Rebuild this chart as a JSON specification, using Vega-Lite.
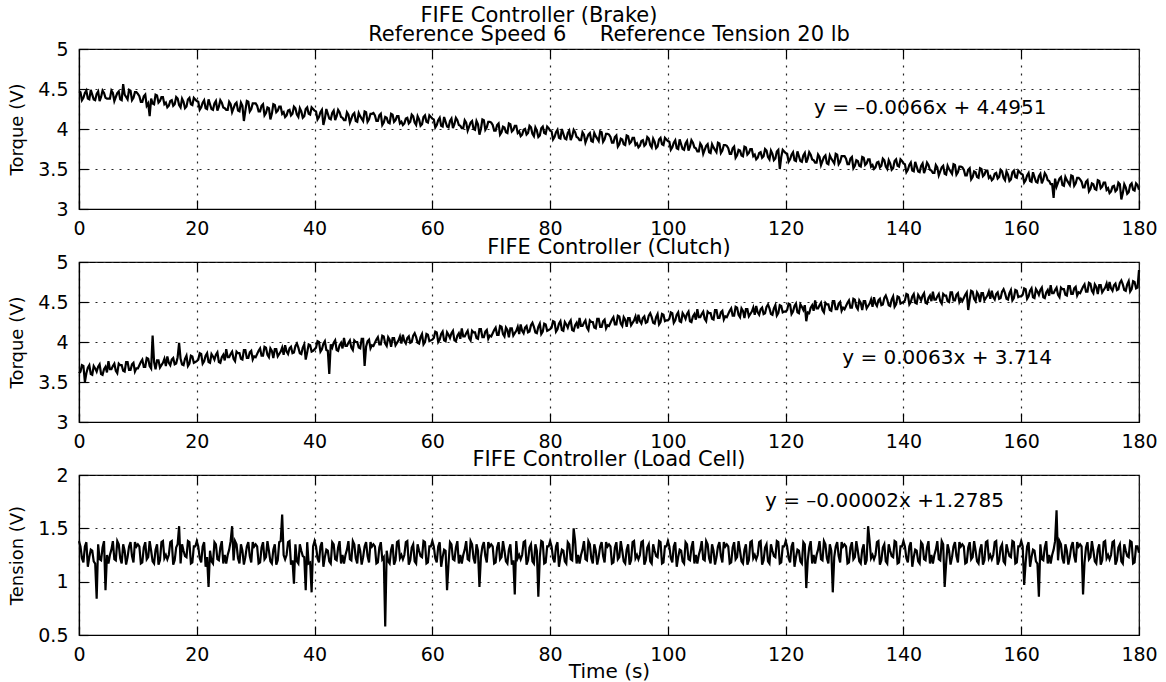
{
"$schema": "https://vega.github.io/schema/vega-lite/v6.json",
"background": "white",
"padding": {"left": 8, "top": 5, "right": 10, "bottom": 0},
"bounds": "flush",
"spacing": 53,
"title": {"text": "FIFE Controller (Brake)", "fontSize": 21, "font": "DejaVu Sans", "fontWeight": "normal", "anchor": "middle", "dx": -44, "offset": -3, "color": "black"},
"config": {
  "font": "DejaVu Sans",
  "view": {"stroke": "black", "strokeWidth": 1.2},
  "title": {"font": "DejaVu Sans", "fontSize": 21, "fontWeight": "normal", "color": "black", "offset": -5},
  "axis": {"labelFont": "DejaVu Sans", "labelFontSize": 19, "labelColor": "black", "titleFont": "DejaVu Sans", "titleFontWeight": "normal", "titleColor": "black", "titleFontSize": 18, "domainColor": "black", "domainWidth": 1.2, "tickColor": "black", "tickWidth": 1.2, "tickSize": -9, "labelPadding": 19, "gridColor": "#222222", "gridDash": [2, 6], "gridWidth": 1.2, "gridOpacity": 1, "labelFlush": false, "labelOverlap": false, "grid": true}
},
"datasets": {"d": [
{"t":0,"b":4.47,"c":3.61,"l":1.38},{"t":0.5,"b":4.36,"c":3.71,"l":1.22},{"t":1,"b":4.45,"c":3.50,"l":1.33},{"t":1.5,"b":4.38,"c":3.68,"l":1.14},{"t":2,"b":4.49,"c":3.60,"l":1.30},{"t":2.5,"b":4.37,"c":3.70,"l":1.19},{"t":3,"b":4.44,"c":3.63,"l":0.84},{"t":3.5,"b":4.35,"c":3.72,"l":1.21},{"t":4,"b":4.48,"c":3.59,"l":1.32},{"t":4.5,"b":4.39,"c":3.69,"l":0.92},
{"t":5,"b":4.38,"c":3.76,"l":1.17},{"t":5.5,"b":4.48,"c":3.66,"l":1.30},{"t":6,"b":4.35,"c":3.73,"l":1.21},{"t":6.5,"b":4.45,"c":3.61,"l":1.38},{"t":7,"b":4.37,"c":3.71,"l":1.22},{"t":7.5,"b":4.56,"c":3.64,"l":1.35},{"t":8,"b":4.40,"c":3.75,"l":1.16},{"t":8.5,"b":4.49,"c":3.65,"l":1.33},{"t":9,"b":4.36,"c":3.72,"l":1.24},{"t":9.5,"b":4.46,"c":3.63,"l":1.37},
{"t":10,"b":4.44,"c":3.67,"l":1.35},{"t":10.5,"b":4.34,"c":3.75,"l":1.17},{"t":11,"b":4.41,"c":3.69,"l":1.32},{"t":11.5,"b":4.29,"c":3.80,"l":1.21},{"t":12,"b":4.16,"c":3.70,"l":1.38},{"t":12.5,"b":4.32,"c":4.08,"l":1.19},{"t":13,"b":4.43,"c":3.66,"l":1.30},{"t":13.5,"b":4.33,"c":3.77,"l":1.16},{"t":14,"b":4.40,"c":3.71,"l":1.37},{"t":14.5,"b":4.31,"c":3.79,"l":1.22},
{"t":15,"b":4.27,"c":3.82,"l":1.21},{"t":15.5,"b":4.35,"c":3.71,"l":1.37},{"t":16,"b":4.29,"c":3.80,"l":1.16},{"t":16.5,"b":4.40,"c":3.73,"l":1.32},{"t":17,"b":4.30,"c":3.99,"l":1.52},{"t":17.5,"b":4.38,"c":3.72,"l":1.35},{"t":18,"b":4.26,"c":3.79,"l":1.24},{"t":18.5,"b":4.37,"c":3.70,"l":1.38},{"t":19,"b":4.31,"c":3.83,"l":1.17},{"t":19.5,"b":4.39,"c":3.74,"l":1.33},
{"t":20,"b":4.35,"c":3.76,"l":1.38},{"t":20.5,"b":4.24,"c":3.86,"l":1.22},{"t":21,"b":4.33,"c":3.73,"l":1.33},{"t":21.5,"b":4.26,"c":3.83,"l":1.14},{"t":22,"b":4.37,"c":3.75,"l":0.95},{"t":22.5,"b":4.25,"c":3.85,"l":1.19},{"t":23,"b":4.32,"c":3.78,"l":1.37},{"t":23.5,"b":4.23,"c":3.87,"l":1.21},{"t":24,"b":4.36,"c":3.74,"l":1.32},{"t":24.5,"b":4.27,"c":3.84,"l":1.17},
{"t":25,"b":4.24,"c":3.91,"l":1.17},{"t":25.5,"b":4.34,"c":3.81,"l":1.30},{"t":26,"b":4.21,"c":3.88,"l":1.52},{"t":26.5,"b":4.31,"c":3.76,"l":1.38},{"t":27,"b":4.23,"c":3.86,"l":1.22},{"t":27.5,"b":4.33,"c":3.79,"l":1.35},{"t":28,"b":4.10,"c":3.90,"l":1.16},{"t":28.5,"b":4.35,"c":3.80,"l":1.33},{"t":29,"b":4.22,"c":3.87,"l":1.24},{"t":29.5,"b":4.32,"c":3.78,"l":1.37},
{"t":30,"b":4.32,"c":3.81,"l":1.35},{"t":30.5,"b":4.22,"c":3.89,"l":1.17},{"t":31,"b":4.29,"c":3.83,"l":1.32},{"t":31.5,"b":4.17,"c":3.94,"l":1.21},{"t":32,"b":4.27,"c":3.84,"l":1.38},{"t":32.5,"b":4.12,"c":3.92,"l":1.19},{"t":33,"b":4.31,"c":3.80,"l":1.30},{"t":33.5,"b":4.21,"c":3.91,"l":1.16},{"t":34,"b":4.28,"c":3.85,"l":1.37},{"t":34.5,"b":4.19,"c":3.93,"l":1.63},
{"t":35,"b":4.15,"c":3.96,"l":1.21},{"t":35.5,"b":4.23,"c":3.85,"l":1.37},{"t":36,"b":4.17,"c":3.94,"l":1.16},{"t":36.5,"b":4.28,"c":3.87,"l":0.98},{"t":37,"b":4.18,"c":3.98,"l":1.19},{"t":37.5,"b":4.26,"c":3.86,"l":1.35},{"t":38,"b":4.14,"c":3.93,"l":1.24},{"t":38.5,"b":4.25,"c":3.78,"l":0.92},{"t":39,"b":4.19,"c":3.97,"l":1.17},{"t":39.5,"b":4.27,"c":3.88,"l":0.90},
{"t":40,"b":4.23,"c":3.91,"l":1.38},{"t":40.5,"b":4.12,"c":4.01,"l":1.22},{"t":41,"b":4.21,"c":3.88,"l":1.33},{"t":41.5,"b":4.05,"c":3.98,"l":1.14},{"t":42,"b":4.25,"c":3.90,"l":1.30},{"t":42.5,"b":4.13,"c":3.60,"l":1.19},{"t":43,"b":4.20,"c":3.93,"l":1.37},{"t":43.5,"b":4.11,"c":4.02,"l":1.21},{"t":44,"b":4.24,"c":3.89,"l":1.32},{"t":44.5,"b":4.15,"c":3.99,"l":1.17},
{"t":45,"b":4.11,"c":4.05,"l":1.17},{"t":45.5,"b":4.21,"c":3.95,"l":1.30},{"t":46,"b":4.08,"c":4.02,"l":1.21},{"t":46.5,"b":4.18,"c":3.90,"l":1.38},{"t":47,"b":4.10,"c":4.00,"l":1.22},{"t":47.5,"b":4.20,"c":3.93,"l":1.35},{"t":48,"b":4.13,"c":4.04,"l":1.16},{"t":48.5,"b":4.22,"c":3.70,"l":1.33},{"t":49,"b":4.09,"c":4.01,"l":1.24},{"t":49.5,"b":4.19,"c":3.92,"l":1.37},
{"t":50,"b":4.20,"c":3.95,"l":1.35},{"t":50.5,"b":4.10,"c":4.03,"l":1.17},{"t":51,"b":4.17,"c":3.97,"l":1.32},{"t":51.5,"b":4.05,"c":4.08,"l":1.21},{"t":52,"b":4.15,"c":3.98,"l":0.58},{"t":52.5,"b":4.08,"c":4.06,"l":1.19},{"t":53,"b":4.19,"c":3.94,"l":1.30},{"t":53.5,"b":4.09,"c":4.05,"l":1.16},{"t":54,"b":4.16,"c":3.99,"l":1.37},{"t":54.5,"b":4.07,"c":4.07,"l":1.22},
{"t":55,"b":4.05,"c":4.09,"l":1.21},{"t":55.5,"b":4.13,"c":3.98,"l":1.37},{"t":56,"b":4.07,"c":4.07,"l":1.16},{"t":56.5,"b":4.18,"c":4.00,"l":1.32},{"t":57,"b":4.08,"c":4.11,"l":1.19},{"t":57.5,"b":4.16,"c":3.99,"l":1.35},{"t":58,"b":4.04,"c":4.06,"l":1.24},{"t":58.5,"b":4.15,"c":3.97,"l":1.38},{"t":59,"b":4.09,"c":4.10,"l":1.17},{"t":59.5,"b":4.17,"c":4.01,"l":1.33},
{"t":60,"b":4.13,"c":4.03,"l":1.38},{"t":60.5,"b":4.02,"c":4.13,"l":1.22},{"t":61,"b":4.11,"c":4.00,"l":1.33},{"t":61.5,"b":4.04,"c":4.10,"l":1.14},{"t":62,"b":4.15,"c":4.02,"l":1.30},{"t":62.5,"b":4.03,"c":4.12,"l":0.92},{"t":63,"b":4.10,"c":4.05,"l":1.37},{"t":63.5,"b":4.01,"c":4.14,"l":1.21},{"t":64,"b":4.14,"c":4.01,"l":1.32},{"t":64.5,"b":4.05,"c":4.11,"l":1.17},
{"t":65,"b":4.01,"c":4.17,"l":1.17},{"t":65.5,"b":4.11,"c":4.07,"l":1.30},{"t":66,"b":3.98,"c":4.14,"l":1.21},{"t":66.5,"b":4.08,"c":4.02,"l":1.38},{"t":67,"b":4.00,"c":4.12,"l":1.22},{"t":67.5,"b":4.10,"c":4.05,"l":1.35},{"t":68,"b":3.93,"c":4.16,"l":0.95},{"t":68.5,"b":4.12,"c":4.06,"l":1.33},{"t":69,"b":3.99,"c":4.13,"l":1.24},{"t":69.5,"b":4.09,"c":4.04,"l":1.37},
{"t":70,"b":4.08,"c":4.07,"l":1.35},{"t":70.5,"b":3.98,"c":4.15,"l":1.17},{"t":71,"b":4.05,"c":4.09,"l":1.32},{"t":71.5,"b":3.93,"c":4.20,"l":1.21},{"t":72,"b":4.03,"c":4.10,"l":1.38},{"t":72.5,"b":3.96,"c":4.18,"l":1.19},{"t":73,"b":4.07,"c":4.06,"l":1.30},{"t":73.5,"b":3.97,"c":4.17,"l":1.16},{"t":74,"b":4.04,"c":4.11,"l":0.88},{"t":74.5,"b":3.95,"c":4.19,"l":1.22},
{"t":75,"b":3.91,"c":4.22,"l":1.21},{"t":75.5,"b":3.99,"c":4.11,"l":1.37},{"t":76,"b":3.93,"c":4.20,"l":1.16},{"t":76.5,"b":4.04,"c":4.13,"l":1.32},{"t":77,"b":3.94,"c":4.24,"l":1.19},{"t":77.5,"b":4.02,"c":4.12,"l":1.35},{"t":78,"b":3.90,"c":4.19,"l":0.86},{"t":78.5,"b":4.01,"c":4.10,"l":1.38},{"t":79,"b":3.95,"c":4.23,"l":1.17},{"t":79.5,"b":4.03,"c":4.14,"l":1.33},
{"t":80,"b":3.98,"c":4.16,"l":1.38},{"t":80.5,"b":3.87,"c":4.26,"l":1.22},{"t":81,"b":3.96,"c":4.13,"l":1.33},{"t":81.5,"b":3.89,"c":4.23,"l":1.14},{"t":82,"b":4.00,"c":4.15,"l":1.30},{"t":82.5,"b":3.88,"c":4.25,"l":1.19},{"t":83,"b":3.95,"c":4.18,"l":1.37},{"t":83.5,"b":3.86,"c":4.27,"l":1.21},{"t":84,"b":3.99,"c":4.14,"l":1.50},{"t":84.5,"b":3.90,"c":4.24,"l":1.17},
{"t":85,"b":3.86,"c":4.30,"l":1.17},{"t":85.5,"b":3.96,"c":4.20,"l":1.30},{"t":86,"b":3.83,"c":4.27,"l":1.21},{"t":86.5,"b":3.93,"c":4.15,"l":1.38},{"t":87,"b":3.85,"c":4.25,"l":1.22},{"t":87.5,"b":3.95,"c":4.18,"l":1.35},{"t":88,"b":3.88,"c":4.29,"l":1.16},{"t":88.5,"b":3.97,"c":4.19,"l":1.33},{"t":89,"b":3.84,"c":4.26,"l":1.24},{"t":89.5,"b":3.94,"c":4.17,"l":1.37},
{"t":90,"b":3.93,"c":4.20,"l":1.35},{"t":90.5,"b":3.83,"c":4.28,"l":1.17},{"t":91,"b":3.90,"c":4.22,"l":1.32},{"t":91.5,"b":3.78,"c":4.33,"l":1.21},{"t":92,"b":3.88,"c":4.23,"l":1.38},{"t":92.5,"b":3.81,"c":4.31,"l":1.19},{"t":93,"b":3.92,"c":4.19,"l":1.30},{"t":93.5,"b":3.82,"c":4.30,"l":1.16},{"t":94,"b":3.89,"c":4.24,"l":1.37},{"t":94.5,"b":3.80,"c":4.32,"l":1.22},
{"t":95,"b":3.77,"c":4.34,"l":1.21},{"t":95.5,"b":3.85,"c":4.23,"l":1.37},{"t":96,"b":3.79,"c":4.32,"l":1.16},{"t":96.5,"b":3.90,"c":4.25,"l":1.32},{"t":97,"b":3.80,"c":4.36,"l":1.19},{"t":97.5,"b":3.88,"c":4.24,"l":1.35},{"t":98,"b":3.76,"c":4.31,"l":1.24},{"t":98.5,"b":3.87,"c":4.22,"l":1.38},{"t":99,"b":3.81,"c":4.35,"l":1.17},{"t":99.5,"b":3.89,"c":4.26,"l":1.33},
{"t":100,"b":3.85,"c":4.27,"l":1.38},{"t":100.5,"b":3.74,"c":4.37,"l":1.22},{"t":101,"b":3.83,"c":4.24,"l":1.33},{"t":101.5,"b":3.76,"c":4.34,"l":1.14},{"t":102,"b":3.87,"c":4.26,"l":1.30},{"t":102.5,"b":3.75,"c":4.36,"l":1.19},{"t":103,"b":3.82,"c":4.29,"l":1.37},{"t":103.5,"b":3.73,"c":4.38,"l":1.21},{"t":104,"b":3.86,"c":4.25,"l":1.32},{"t":104.5,"b":3.77,"c":4.35,"l":1.17},
{"t":105,"b":3.72,"c":4.41,"l":1.17},{"t":105.5,"b":3.82,"c":4.31,"l":1.30},{"t":106,"b":3.69,"c":4.38,"l":1.21},{"t":106.5,"b":3.79,"c":4.26,"l":1.38},{"t":107,"b":3.71,"c":4.36,"l":1.22},{"t":107.5,"b":3.81,"c":4.29,"l":1.35},{"t":108,"b":3.74,"c":4.40,"l":1.16},{"t":108.5,"b":3.83,"c":4.30,"l":1.33},{"t":109,"b":3.70,"c":4.37,"l":1.24},{"t":109.5,"b":3.80,"c":4.28,"l":1.37},
{"t":110,"b":3.79,"c":4.31,"l":1.35},{"t":110.5,"b":3.69,"c":4.39,"l":1.17},{"t":111,"b":3.76,"c":4.33,"l":1.32},{"t":111.5,"b":3.64,"c":4.44,"l":1.21},{"t":112,"b":3.74,"c":4.34,"l":1.38},{"t":112.5,"b":3.67,"c":4.42,"l":1.19},{"t":113,"b":3.78,"c":4.30,"l":1.30},{"t":113.5,"b":3.68,"c":4.41,"l":1.16},{"t":114,"b":3.75,"c":4.35,"l":1.37},{"t":114.5,"b":3.66,"c":4.43,"l":1.22},
{"t":115,"b":3.62,"c":4.45,"l":1.21},{"t":115.5,"b":3.70,"c":4.34,"l":1.37},{"t":116,"b":3.64,"c":4.43,"l":1.16},{"t":116.5,"b":3.75,"c":4.36,"l":1.32},{"t":117,"b":3.65,"c":4.47,"l":1.19},{"t":117.5,"b":3.73,"c":4.35,"l":1.35},{"t":118,"b":3.61,"c":4.42,"l":1.24},{"t":118.5,"b":3.72,"c":4.33,"l":1.38},{"t":119,"b":3.50,"c":4.46,"l":1.17},{"t":119.5,"b":3.74,"c":4.37,"l":1.33},
{"t":120,"b":3.70,"c":4.38,"l":1.38},{"t":120.5,"b":3.59,"c":4.48,"l":1.22},{"t":121,"b":3.68,"c":4.35,"l":1.33},{"t":121.5,"b":3.61,"c":4.45,"l":1.14},{"t":122,"b":3.72,"c":4.37,"l":1.30},{"t":122.5,"b":3.60,"c":4.47,"l":1.19},{"t":123,"b":3.67,"c":4.40,"l":1.37},{"t":123.5,"b":3.58,"c":4.26,"l":0.94},{"t":124,"b":3.71,"c":4.36,"l":1.32},{"t":124.5,"b":3.62,"c":4.46,"l":1.17},
{"t":125,"b":3.58,"c":4.52,"l":1.17},{"t":125.5,"b":3.68,"c":4.42,"l":1.30},{"t":126,"b":3.55,"c":4.49,"l":1.21},{"t":126.5,"b":3.65,"c":4.37,"l":1.38},{"t":127,"b":3.57,"c":4.47,"l":1.22},{"t":127.5,"b":3.67,"c":4.40,"l":1.35},{"t":128,"b":3.60,"c":4.51,"l":0.90},{"t":128.5,"b":3.69,"c":4.41,"l":1.33},{"t":129,"b":3.56,"c":4.48,"l":1.24},{"t":129.5,"b":3.66,"c":4.39,"l":1.37},
{"t":130,"b":3.66,"c":4.41,"l":1.35},{"t":130.5,"b":3.56,"c":4.49,"l":1.17},{"t":131,"b":3.63,"c":4.43,"l":1.32},{"t":131.5,"b":3.51,"c":4.54,"l":1.21},{"t":132,"b":3.61,"c":4.44,"l":1.38},{"t":132.5,"b":3.54,"c":4.52,"l":1.19},{"t":133,"b":3.65,"c":4.40,"l":1.30},{"t":133.5,"b":3.55,"c":4.51,"l":1.16},{"t":134,"b":3.62,"c":4.45,"l":1.52},{"t":134.5,"b":3.53,"c":4.53,"l":1.22},
{"t":135,"b":3.50,"c":4.56,"l":1.21},{"t":135.5,"b":3.58,"c":4.45,"l":1.37},{"t":136,"b":3.52,"c":4.54,"l":1.16},{"t":136.5,"b":3.63,"c":4.47,"l":1.32},{"t":137,"b":3.53,"c":4.58,"l":1.19},{"t":137.5,"b":3.61,"c":4.46,"l":1.35},{"t":138,"b":3.49,"c":4.53,"l":1.24},{"t":138.5,"b":3.60,"c":4.44,"l":1.38},{"t":139,"b":3.54,"c":4.57,"l":1.17},{"t":139.5,"b":3.62,"c":4.48,"l":1.33},
{"t":140,"b":3.57,"c":4.50,"l":1.38},{"t":140.5,"b":3.46,"c":4.60,"l":1.22},{"t":141,"b":3.55,"c":4.47,"l":1.33},{"t":141.5,"b":3.48,"c":4.57,"l":1.14},{"t":142,"b":3.59,"c":4.49,"l":1.30},{"t":142.5,"b":3.47,"c":4.59,"l":1.19},{"t":143,"b":3.54,"c":4.52,"l":1.37},{"t":143.5,"b":3.45,"c":4.61,"l":1.21},{"t":144,"b":3.58,"c":4.48,"l":1.32},{"t":144.5,"b":3.49,"c":4.58,"l":1.17},
{"t":145,"b":3.45,"c":4.63,"l":1.17},{"t":145.5,"b":3.55,"c":4.53,"l":1.30},{"t":146,"b":3.42,"c":4.60,"l":1.21},{"t":146.5,"b":3.52,"c":4.48,"l":1.38},{"t":147,"b":3.44,"c":4.58,"l":0.95},{"t":147.5,"b":3.54,"c":4.51,"l":1.35},{"t":148,"b":3.47,"c":4.62,"l":1.16},{"t":148.5,"b":3.56,"c":4.52,"l":1.33},{"t":149,"b":3.43,"c":4.59,"l":1.24},{"t":149.5,"b":3.53,"c":4.50,"l":1.37},
{"t":150,"b":3.52,"c":4.51,"l":1.35},{"t":150.5,"b":3.42,"c":4.59,"l":1.17},{"t":151,"b":3.49,"c":4.40,"l":1.32},{"t":151.5,"b":3.37,"c":4.64,"l":1.21},{"t":152,"b":3.47,"c":4.54,"l":1.38},{"t":152.5,"b":3.40,"c":4.62,"l":1.19},{"t":153,"b":3.51,"c":4.50,"l":1.30},{"t":153.5,"b":3.41,"c":4.61,"l":1.16},{"t":154,"b":3.48,"c":4.55,"l":1.37},{"t":154.5,"b":3.39,"c":4.63,"l":1.22},
{"t":155,"b":3.36,"c":4.64,"l":1.21},{"t":155.5,"b":3.44,"c":4.53,"l":1.37},{"t":156,"b":3.38,"c":4.62,"l":1.16},{"t":156.5,"b":3.49,"c":4.55,"l":1.32},{"t":157,"b":3.39,"c":4.66,"l":1.19},{"t":157.5,"b":3.47,"c":4.54,"l":1.35},{"t":158,"b":3.35,"c":4.61,"l":1.24},{"t":158.5,"b":3.46,"c":4.52,"l":1.38},{"t":159,"b":3.40,"c":4.65,"l":1.17},{"t":159.5,"b":3.48,"c":4.56,"l":1.33},
{"t":160,"b":3.44,"c":4.57,"l":1.38},{"t":160.5,"b":3.33,"c":4.67,"l":0.97},{"t":161,"b":3.42,"c":4.54,"l":1.33},{"t":161.5,"b":3.35,"c":4.64,"l":1.14},{"t":162,"b":3.46,"c":4.56,"l":1.30},{"t":162.5,"b":3.34,"c":4.66,"l":1.19},{"t":163,"b":3.41,"c":4.59,"l":0.86},{"t":163.5,"b":3.32,"c":4.68,"l":1.21},{"t":164,"b":3.45,"c":4.55,"l":1.32},{"t":164.5,"b":3.36,"c":4.65,"l":1.17},
{"t":165,"b":3.31,"c":4.71,"l":1.17},{"t":165.5,"b":3.14,"c":4.61,"l":1.30},{"t":166,"b":3.28,"c":4.68,"l":1.67},{"t":166.5,"b":3.38,"c":4.56,"l":1.38},{"t":167,"b":3.30,"c":4.66,"l":1.22},{"t":167.5,"b":3.40,"c":4.59,"l":1.35},{"t":168,"b":3.33,"c":4.70,"l":1.16},{"t":168.5,"b":3.42,"c":4.60,"l":1.33},{"t":169,"b":3.29,"c":4.67,"l":1.24},{"t":169.5,"b":3.39,"c":4.58,"l":1.37},
{"t":170,"b":3.37,"c":4.61,"l":1.35},{"t":170.5,"b":3.27,"c":4.69,"l":0.88},{"t":171,"b":3.34,"c":4.63,"l":1.32},{"t":171.5,"b":3.22,"c":4.74,"l":1.21},{"t":172,"b":3.32,"c":4.64,"l":1.38},{"t":172.5,"b":3.25,"c":4.72,"l":1.19},{"t":173,"b":3.36,"c":4.60,"l":1.30},{"t":173.5,"b":3.26,"c":4.71,"l":1.16},{"t":174,"b":3.33,"c":4.65,"l":1.37},{"t":174.5,"b":3.24,"c":4.73,"l":1.22},
{"t":175,"b":3.20,"c":4.75,"l":1.21},{"t":175.5,"b":3.28,"c":4.64,"l":1.37},{"t":176,"b":3.22,"c":4.73,"l":1.16},{"t":176.5,"b":3.33,"c":4.66,"l":1.32},{"t":177,"b":3.12,"c":4.77,"l":1.19},{"t":177.5,"b":3.31,"c":4.65,"l":1.35},{"t":178,"b":3.19,"c":4.72,"l":1.24},{"t":178.5,"b":3.30,"c":4.63,"l":1.38},{"t":179,"b":3.24,"c":4.76,"l":1.17},{"t":179.5,"b":3.32,"c":4.67,"l":1.33},
{"t":180,"b":3.24,"c":4.90,"l":1.27},
{"t":0.25,"b":4.46,"c":3.63,"l":1.33},{"t":0.75,"b":4.39,"c":3.70,"l":1.18},{"t":1.25,"b":4.48,"c":3.61,"l":1.37},{"t":1.75,"b":4.37,"c":3.71,"l":1.23},{"t":2.25,"b":4.43,"c":3.59,"l":1.29},{"t":2.75,"b":4.36,"c":3.67,"l":1.17},{"t":3.25,"b":4.47,"c":3.69,"l":1.35},{"t":3.75,"b":4.40,"c":3.60,"l":1.20},{"t":4.25,"b":4.45,"c":3.66,"l":1.38},{"t":4.75,"b":4.38,"c":3.62,"l":1.25},
{"t":5.25,"b":4.38,"c":3.66,"l":1.25},{"t":5.75,"b":4.45,"c":3.70,"l":1.38},{"t":6.25,"b":4.40,"c":3.64,"l":1.20},{"t":6.75,"b":4.47,"c":3.73,"l":1.35},{"t":7.25,"b":4.36,"c":3.71,"l":1.17},{"t":7.75,"b":4.43,"c":3.63,"l":1.29},{"t":8.25,"b":4.37,"c":3.75,"l":1.23},{"t":8.75,"b":4.48,"c":3.65,"l":1.37},{"t":9.25,"b":4.39,"c":3.74,"l":1.18},{"t":9.75,"b":4.46,"c":3.67,"l":1.33},
{"t":10.25,"b":4.41,"c":3.71,"l":1.33},{"t":10.75,"b":4.34,"c":3.78,"l":1.18},{"t":11.25,"b":4.43,"c":3.69,"l":1.37},{"t":11.75,"b":4.32,"c":3.79,"l":1.23},{"t":12.25,"b":4.38,"c":3.67,"l":1.29},{"t":12.75,"b":4.31,"c":3.75,"l":1.17},{"t":13.25,"b":4.42,"c":3.77,"l":1.35},{"t":13.75,"b":4.35,"c":3.68,"l":1.20},{"t":14.25,"b":4.40,"c":3.74,"l":1.38},{"t":14.75,"b":4.33,"c":3.70,"l":1.25},
{"t":15.25,"b":4.29,"c":3.74,"l":1.25},{"t":15.75,"b":4.36,"c":3.78,"l":1.38},{"t":16.25,"b":4.31,"c":3.72,"l":1.20},{"t":16.75,"b":4.38,"c":3.81,"l":1.35},{"t":17.25,"b":4.27,"c":3.79,"l":1.17},{"t":17.75,"b":4.34,"c":3.71,"l":1.29},{"t":18.25,"b":4.28,"c":3.83,"l":1.23},{"t":18.75,"b":4.39,"c":3.73,"l":1.37},{"t":19.25,"b":4.30,"c":3.82,"l":1.18},{"t":19.75,"b":4.37,"c":3.75,"l":1.33},
{"t":20.25,"b":4.34,"c":3.78,"l":1.33},{"t":20.75,"b":4.27,"c":3.85,"l":1.18},{"t":21.25,"b":4.36,"c":3.76,"l":1.37},{"t":21.75,"b":4.25,"c":3.86,"l":1.23},{"t":22.25,"b":4.31,"c":3.74,"l":1.29},{"t":22.75,"b":4.24,"c":3.82,"l":1.17},{"t":23.25,"b":4.35,"c":3.84,"l":1.35},{"t":23.75,"b":4.28,"c":3.75,"l":1.20},{"t":24.25,"b":4.33,"c":3.81,"l":1.38},{"t":24.75,"b":4.26,"c":3.77,"l":1.25},
{"t":25.25,"b":4.24,"c":3.81,"l":1.25},{"t":25.75,"b":4.31,"c":3.85,"l":1.38},{"t":26.25,"b":4.26,"c":3.79,"l":1.20},{"t":26.75,"b":4.33,"c":3.88,"l":1.35},{"t":27.25,"b":4.22,"c":3.86,"l":1.17},{"t":27.75,"b":4.29,"c":3.78,"l":1.29},{"t":28.25,"b":4.23,"c":3.90,"l":1.23},{"t":28.75,"b":4.34,"c":3.80,"l":1.37},{"t":29.25,"b":4.25,"c":3.89,"l":1.18},{"t":29.75,"b":4.32,"c":3.82,"l":1.33},
{"t":30.25,"b":4.29,"c":3.85,"l":1.33},{"t":30.75,"b":4.22,"c":3.92,"l":1.18},{"t":31.25,"b":4.31,"c":3.83,"l":1.37},{"t":31.75,"b":4.20,"c":3.93,"l":1.23},{"t":32.25,"b":4.26,"c":3.81,"l":1.29},{"t":32.75,"b":4.19,"c":3.89,"l":1.17},{"t":33.25,"b":4.30,"c":3.91,"l":1.35},{"t":33.75,"b":4.23,"c":3.82,"l":1.20},{"t":34.25,"b":4.28,"c":3.88,"l":1.38},{"t":34.75,"b":4.21,"c":3.84,"l":1.25},
{"t":35.25,"b":4.17,"c":3.88,"l":1.25},{"t":35.75,"b":4.24,"c":3.92,"l":1.38},{"t":36.25,"b":4.19,"c":3.86,"l":1.20},{"t":36.75,"b":4.26,"c":3.95,"l":1.35},{"t":37.25,"b":4.15,"c":3.93,"l":1.17},{"t":37.75,"b":4.22,"c":3.85,"l":1.29},{"t":38.25,"b":4.16,"c":3.97,"l":1.23},{"t":38.75,"b":4.27,"c":3.87,"l":1.37},{"t":39.25,"b":4.18,"c":3.96,"l":1.18},{"t":39.75,"b":4.25,"c":3.89,"l":1.33},
{"t":40.25,"b":4.22,"c":3.93,"l":1.33},{"t":40.75,"b":4.15,"c":4.00,"l":1.18},{"t":41.25,"b":4.24,"c":3.91,"l":1.37},{"t":41.75,"b":4.13,"c":4.01,"l":1.23},{"t":42.25,"b":4.19,"c":3.89,"l":1.29},{"t":42.75,"b":4.12,"c":3.97,"l":1.17},{"t":43.25,"b":4.23,"c":3.99,"l":1.35},{"t":43.75,"b":4.16,"c":3.90,"l":1.20},{"t":44.25,"b":4.21,"c":3.96,"l":1.38},{"t":44.75,"b":4.14,"c":3.92,"l":1.25},
{"t":45.25,"b":4.11,"c":3.95,"l":1.25},{"t":45.75,"b":4.18,"c":3.99,"l":1.38},{"t":46.25,"b":4.13,"c":3.93,"l":1.20},{"t":46.75,"b":4.20,"c":4.02,"l":1.35},{"t":47.25,"b":4.09,"c":4.00,"l":1.17},{"t":47.75,"b":4.16,"c":3.92,"l":1.29},{"t":48.25,"b":4.10,"c":4.04,"l":1.23},{"t":48.75,"b":4.21,"c":3.94,"l":1.37},{"t":49.25,"b":4.12,"c":4.03,"l":1.18},{"t":49.75,"b":4.19,"c":3.96,"l":1.33},
{"t":50.25,"b":4.17,"c":3.99,"l":1.33},{"t":50.75,"b":4.10,"c":4.06,"l":1.18},{"t":51.25,"b":4.19,"c":3.97,"l":1.37},{"t":51.75,"b":4.08,"c":4.07,"l":1.23},{"t":52.25,"b":4.14,"c":3.95,"l":1.29},{"t":52.75,"b":4.07,"c":4.03,"l":1.17},{"t":53.25,"b":4.18,"c":4.05,"l":1.35},{"t":53.75,"b":4.11,"c":3.96,"l":1.20},{"t":54.25,"b":4.16,"c":4.02,"l":1.38},{"t":54.75,"b":4.09,"c":3.98,"l":1.25},
{"t":55.25,"b":4.07,"c":4.01,"l":1.25},{"t":55.75,"b":4.14,"c":4.05,"l":1.38},{"t":56.25,"b":4.09,"c":3.99,"l":1.20},{"t":56.75,"b":4.16,"c":4.08,"l":1.35},{"t":57.25,"b":4.05,"c":4.06,"l":1.17},{"t":57.75,"b":4.12,"c":3.98,"l":1.29},{"t":58.25,"b":4.06,"c":4.10,"l":1.23},{"t":58.75,"b":4.17,"c":4.00,"l":1.37},{"t":59.25,"b":4.08,"c":4.09,"l":1.18},{"t":59.75,"b":4.15,"c":4.02,"l":1.33},
{"t":60.25,"b":4.12,"c":4.05,"l":1.33},{"t":60.75,"b":4.05,"c":4.12,"l":1.18},{"t":61.25,"b":4.14,"c":4.03,"l":1.37},{"t":61.75,"b":4.03,"c":4.13,"l":1.23},{"t":62.25,"b":4.09,"c":4.01,"l":1.29},{"t":62.75,"b":4.02,"c":4.09,"l":1.17},{"t":63.25,"b":4.13,"c":4.11,"l":1.35},{"t":63.75,"b":4.06,"c":4.02,"l":1.20},{"t":64.25,"b":4.11,"c":4.08,"l":1.38},{"t":64.75,"b":4.04,"c":4.04,"l":1.25},
{"t":65.25,"b":4.01,"c":4.07,"l":1.25},{"t":65.75,"b":4.08,"c":4.11,"l":1.38},{"t":66.25,"b":4.03,"c":4.05,"l":1.20},{"t":66.75,"b":4.10,"c":4.14,"l":1.35},{"t":67.25,"b":3.99,"c":4.12,"l":1.17},{"t":67.75,"b":4.06,"c":4.04,"l":1.29},{"t":68.25,"b":4.00,"c":4.16,"l":1.23},{"t":68.75,"b":4.11,"c":4.06,"l":1.37},{"t":69.25,"b":4.02,"c":4.15,"l":1.18},{"t":69.75,"b":4.09,"c":4.08,"l":1.33},
{"t":70.25,"b":4.05,"c":4.11,"l":1.33},{"t":70.75,"b":3.98,"c":4.18,"l":1.18},{"t":71.25,"b":4.07,"c":4.09,"l":1.37},{"t":71.75,"b":3.96,"c":4.19,"l":1.23},{"t":72.25,"b":4.02,"c":4.07,"l":1.29},{"t":72.75,"b":3.95,"c":4.15,"l":1.17},{"t":73.25,"b":4.06,"c":4.17,"l":1.35},{"t":73.75,"b":3.99,"c":4.08,"l":1.20},{"t":74.25,"b":4.04,"c":4.14,"l":1.38},{"t":74.75,"b":3.97,"c":4.10,"l":1.25},
{"t":75.25,"b":3.93,"c":4.14,"l":1.25},{"t":75.75,"b":4.00,"c":4.18,"l":1.38},{"t":76.25,"b":3.95,"c":4.12,"l":1.20},{"t":76.75,"b":4.02,"c":4.21,"l":1.35},{"t":77.25,"b":3.91,"c":4.19,"l":1.17},{"t":77.75,"b":3.98,"c":4.11,"l":1.29},{"t":78.25,"b":3.92,"c":4.23,"l":1.23},{"t":78.75,"b":4.03,"c":4.13,"l":1.37},{"t":79.25,"b":3.94,"c":4.22,"l":1.18},{"t":79.75,"b":4.01,"c":4.15,"l":1.33},
{"t":80.25,"b":3.97,"c":4.18,"l":1.33},{"t":80.75,"b":3.90,"c":4.25,"l":1.18},{"t":81.25,"b":3.99,"c":4.16,"l":1.37},{"t":81.75,"b":3.88,"c":4.26,"l":1.23},{"t":82.25,"b":3.94,"c":4.14,"l":1.29},{"t":82.75,"b":3.87,"c":4.22,"l":1.17},{"t":83.25,"b":3.98,"c":4.24,"l":1.35},{"t":83.75,"b":3.91,"c":4.15,"l":1.20},{"t":84.25,"b":3.96,"c":4.21,"l":1.38},{"t":84.75,"b":3.89,"c":4.17,"l":1.25},
{"t":85.25,"b":3.86,"c":4.20,"l":1.25},{"t":85.75,"b":3.93,"c":4.24,"l":1.38},{"t":86.25,"b":3.88,"c":4.18,"l":1.20},{"t":86.75,"b":3.95,"c":4.27,"l":1.35},{"t":87.25,"b":3.84,"c":4.25,"l":1.17},{"t":87.75,"b":3.91,"c":4.17,"l":1.29},{"t":88.25,"b":3.85,"c":4.29,"l":1.23},{"t":88.75,"b":3.96,"c":4.19,"l":1.37},{"t":89.25,"b":3.87,"c":4.28,"l":1.18},{"t":89.75,"b":3.94,"c":4.21,"l":1.33},
{"t":90.25,"b":3.90,"c":4.24,"l":1.33},{"t":90.75,"b":3.83,"c":4.31,"l":1.18},{"t":91.25,"b":3.92,"c":4.22,"l":1.37},{"t":91.75,"b":3.81,"c":4.32,"l":1.23},{"t":92.25,"b":3.87,"c":4.20,"l":1.29},{"t":92.75,"b":3.80,"c":4.28,"l":1.17},{"t":93.25,"b":3.91,"c":4.30,"l":1.35},{"t":93.75,"b":3.84,"c":4.21,"l":1.20},{"t":94.25,"b":3.89,"c":4.27,"l":1.38},{"t":94.75,"b":3.82,"c":4.23,"l":1.25},
{"t":95.25,"b":3.79,"c":4.26,"l":1.25},{"t":95.75,"b":3.86,"c":4.30,"l":1.38},{"t":96.25,"b":3.81,"c":4.24,"l":1.20},{"t":96.75,"b":3.88,"c":4.33,"l":1.35},{"t":97.25,"b":3.77,"c":4.31,"l":1.17},{"t":97.75,"b":3.84,"c":4.23,"l":1.29},{"t":98.25,"b":3.78,"c":4.35,"l":1.23},{"t":98.75,"b":3.89,"c":4.25,"l":1.37},{"t":99.25,"b":3.80,"c":4.34,"l":1.18},{"t":99.75,"b":3.87,"c":4.27,"l":1.33},
{"t":100.25,"b":3.84,"c":4.29,"l":1.33},{"t":100.75,"b":3.77,"c":4.36,"l":1.18},{"t":101.25,"b":3.86,"c":4.27,"l":1.37},{"t":101.75,"b":3.75,"c":4.37,"l":1.23},{"t":102.25,"b":3.81,"c":4.25,"l":1.29},{"t":102.75,"b":3.74,"c":4.33,"l":1.17},{"t":103.25,"b":3.85,"c":4.35,"l":1.35},{"t":103.75,"b":3.78,"c":4.26,"l":1.20},{"t":104.25,"b":3.83,"c":4.32,"l":1.38},{"t":104.75,"b":3.76,"c":4.28,"l":1.25},
{"t":105.25,"b":3.72,"c":4.31,"l":1.25},{"t":105.75,"b":3.79,"c":4.35,"l":1.38},{"t":106.25,"b":3.74,"c":4.29,"l":1.20},{"t":106.75,"b":3.81,"c":4.38,"l":1.35},{"t":107.25,"b":3.70,"c":4.36,"l":1.17},{"t":107.75,"b":3.77,"c":4.28,"l":1.29},{"t":108.25,"b":3.71,"c":4.40,"l":1.23},{"t":108.75,"b":3.82,"c":4.30,"l":1.37},{"t":109.25,"b":3.73,"c":4.39,"l":1.18},{"t":109.75,"b":3.80,"c":4.32,"l":1.33},
{"t":110.25,"b":3.76,"c":4.35,"l":1.33},{"t":110.75,"b":3.69,"c":4.42,"l":1.18},{"t":111.25,"b":3.78,"c":4.33,"l":1.37},{"t":111.75,"b":3.67,"c":4.43,"l":1.23},{"t":112.25,"b":3.73,"c":4.31,"l":1.29},{"t":112.75,"b":3.66,"c":4.39,"l":1.17},{"t":113.25,"b":3.77,"c":4.41,"l":1.35},{"t":113.75,"b":3.70,"c":4.32,"l":1.20},{"t":114.25,"b":3.75,"c":4.38,"l":1.38},{"t":114.75,"b":3.68,"c":4.34,"l":1.25},
{"t":115.25,"b":3.64,"c":4.37,"l":1.25},{"t":115.75,"b":3.71,"c":4.41,"l":1.38},{"t":116.25,"b":3.66,"c":4.35,"l":1.20},{"t":116.75,"b":3.73,"c":4.44,"l":1.35},{"t":117.25,"b":3.62,"c":4.42,"l":1.17},{"t":117.75,"b":3.69,"c":4.34,"l":1.29},{"t":118.25,"b":3.63,"c":4.46,"l":1.23},{"t":118.75,"b":3.74,"c":4.36,"l":1.37},{"t":119.25,"b":3.65,"c":4.45,"l":1.18},{"t":119.75,"b":3.72,"c":4.38,"l":1.33},
{"t":120.25,"b":3.69,"c":4.40,"l":1.33},{"t":120.75,"b":3.62,"c":4.47,"l":1.18},{"t":121.25,"b":3.71,"c":4.38,"l":1.37},{"t":121.75,"b":3.60,"c":4.48,"l":1.23},{"t":122.25,"b":3.66,"c":4.36,"l":1.29},{"t":122.75,"b":3.59,"c":4.44,"l":1.17},{"t":123.25,"b":3.70,"c":4.46,"l":1.35},{"t":123.75,"b":3.63,"c":4.37,"l":1.20},{"t":124.25,"b":3.68,"c":4.43,"l":1.38},{"t":124.75,"b":3.61,"c":4.39,"l":1.25},
{"t":125.25,"b":3.58,"c":4.42,"l":1.25},{"t":125.75,"b":3.65,"c":4.46,"l":1.38},{"t":126.25,"b":3.60,"c":4.40,"l":1.20},{"t":126.75,"b":3.67,"c":4.49,"l":1.35},{"t":127.25,"b":3.56,"c":4.47,"l":1.17},{"t":127.75,"b":3.63,"c":4.39,"l":1.29},{"t":128.25,"b":3.57,"c":4.51,"l":1.23},{"t":128.75,"b":3.68,"c":4.41,"l":1.37},{"t":129.25,"b":3.59,"c":4.50,"l":1.18},{"t":129.75,"b":3.66,"c":4.43,"l":1.33},
{"t":130.25,"b":3.63,"c":4.45,"l":1.33},{"t":130.75,"b":3.56,"c":4.52,"l":1.18},{"t":131.25,"b":3.65,"c":4.43,"l":1.37},{"t":131.75,"b":3.54,"c":4.53,"l":1.23},{"t":132.25,"b":3.60,"c":4.41,"l":1.29},{"t":132.75,"b":3.53,"c":4.49,"l":1.17},{"t":133.25,"b":3.64,"c":4.51,"l":1.35},{"t":133.75,"b":3.57,"c":4.42,"l":1.20},{"t":134.25,"b":3.62,"c":4.48,"l":1.38},{"t":134.75,"b":3.55,"c":4.44,"l":1.25},
{"t":135.25,"b":3.52,"c":4.48,"l":1.25},{"t":135.75,"b":3.59,"c":4.52,"l":1.38},{"t":136.25,"b":3.54,"c":4.46,"l":1.20},{"t":136.75,"b":3.61,"c":4.55,"l":1.35},{"t":137.25,"b":3.50,"c":4.53,"l":1.17},{"t":137.75,"b":3.57,"c":4.45,"l":1.29},{"t":138.25,"b":3.51,"c":4.57,"l":1.23},{"t":138.75,"b":3.62,"c":4.47,"l":1.37},{"t":139.25,"b":3.53,"c":4.56,"l":1.18},{"t":139.75,"b":3.60,"c":4.49,"l":1.33},
{"t":140.25,"b":3.56,"c":4.52,"l":1.33},{"t":140.75,"b":3.49,"c":4.59,"l":1.18},{"t":141.25,"b":3.58,"c":4.50,"l":1.37},{"t":141.75,"b":3.47,"c":4.60,"l":1.23},{"t":142.25,"b":3.53,"c":4.48,"l":1.29},{"t":142.75,"b":3.46,"c":4.56,"l":1.17},{"t":143.25,"b":3.57,"c":4.58,"l":1.35},{"t":143.75,"b":3.50,"c":4.49,"l":1.20},{"t":144.25,"b":3.55,"c":4.55,"l":1.38},{"t":144.75,"b":3.48,"c":4.51,"l":1.25},
{"t":145.25,"b":3.45,"c":4.53,"l":1.25},{"t":145.75,"b":3.52,"c":4.57,"l":1.38},{"t":146.25,"b":3.47,"c":4.51,"l":1.20},{"t":146.75,"b":3.54,"c":4.60,"l":1.35},{"t":147.25,"b":3.43,"c":4.58,"l":1.17},{"t":147.75,"b":3.50,"c":4.50,"l":1.29},{"t":148.25,"b":3.44,"c":4.62,"l":1.23},{"t":148.75,"b":3.55,"c":4.52,"l":1.37},{"t":149.25,"b":3.46,"c":4.61,"l":1.18},{"t":149.75,"b":3.53,"c":4.54,"l":1.33},
{"t":150.25,"b":3.49,"c":4.55,"l":1.33},{"t":150.75,"b":3.42,"c":4.62,"l":1.18},{"t":151.25,"b":3.51,"c":4.53,"l":1.37},{"t":151.75,"b":3.40,"c":4.63,"l":1.23},{"t":152.25,"b":3.46,"c":4.51,"l":1.29},{"t":152.75,"b":3.39,"c":4.59,"l":1.17},{"t":153.25,"b":3.50,"c":4.61,"l":1.35},{"t":153.75,"b":3.43,"c":4.52,"l":1.20},{"t":154.25,"b":3.48,"c":4.58,"l":1.38},{"t":154.75,"b":3.41,"c":4.54,"l":1.25},
{"t":155.25,"b":3.38,"c":4.56,"l":1.25},{"t":155.75,"b":3.45,"c":4.60,"l":1.38},{"t":156.25,"b":3.40,"c":4.54,"l":1.20},{"t":156.75,"b":3.47,"c":4.63,"l":1.35},{"t":157.25,"b":3.36,"c":4.61,"l":1.17},{"t":157.75,"b":3.43,"c":4.53,"l":1.29},{"t":158.25,"b":3.37,"c":4.65,"l":1.23},{"t":158.75,"b":3.48,"c":4.55,"l":1.37},{"t":159.25,"b":3.39,"c":4.64,"l":1.18},{"t":159.75,"b":3.46,"c":4.57,"l":1.33},
{"t":160.25,"b":3.43,"c":4.59,"l":1.33},{"t":160.75,"b":3.36,"c":4.66,"l":1.18},{"t":161.25,"b":3.45,"c":4.57,"l":1.37},{"t":161.75,"b":3.34,"c":4.67,"l":1.23},{"t":162.25,"b":3.40,"c":4.55,"l":1.29},{"t":162.75,"b":3.33,"c":4.63,"l":1.17},{"t":163.25,"b":3.44,"c":4.65,"l":1.35},{"t":163.75,"b":3.37,"c":4.56,"l":1.20},{"t":164.25,"b":3.42,"c":4.62,"l":1.38},{"t":164.75,"b":3.35,"c":4.58,"l":1.25},
{"t":165.25,"b":3.31,"c":4.61,"l":1.25},{"t":165.75,"b":3.38,"c":4.65,"l":1.38},{"t":166.25,"b":3.33,"c":4.59,"l":1.20},{"t":166.75,"b":3.40,"c":4.68,"l":1.35},{"t":167.25,"b":3.29,"c":4.66,"l":1.17},{"t":167.75,"b":3.36,"c":4.58,"l":1.29},{"t":168.25,"b":3.30,"c":4.70,"l":1.23},{"t":168.75,"b":3.41,"c":4.60,"l":1.37},{"t":169.25,"b":3.32,"c":4.69,"l":1.18},{"t":169.75,"b":3.39,"c":4.62,"l":1.33},
{"t":170.25,"b":3.34,"c":4.65,"l":1.33},{"t":170.75,"b":3.27,"c":4.72,"l":1.18},{"t":171.25,"b":3.36,"c":4.63,"l":1.37},{"t":171.75,"b":3.25,"c":4.73,"l":1.23},{"t":172.25,"b":3.31,"c":4.61,"l":1.29},{"t":172.75,"b":3.24,"c":4.69,"l":1.17},{"t":173.25,"b":3.35,"c":4.71,"l":1.35},{"t":173.75,"b":3.28,"c":4.62,"l":1.20},{"t":174.25,"b":3.33,"c":4.68,"l":1.38},{"t":174.75,"b":3.26,"c":4.64,"l":1.25},
{"t":175.25,"b":3.22,"c":4.67,"l":1.25},{"t":175.75,"b":3.29,"c":4.71,"l":1.38},{"t":176.25,"b":3.24,"c":4.65,"l":1.20},{"t":176.75,"b":3.31,"c":4.74,"l":1.35},{"t":177.25,"b":3.20,"c":4.72,"l":1.17},{"t":177.75,"b":3.27,"c":4.64,"l":1.29},{"t":178.25,"b":3.21,"c":4.76,"l":1.23},{"t":178.75,"b":3.32,"c":4.66,"l":1.37},{"t":179.25,"b":3.23,"c":4.75,"l":1.18},{"t":179.75,"b":3.30,"c":4.68,"l":1.33}
]},
"vconcat": [
  {
    "width": 1060, "height": 160,
    "title": {"text": "Reference Speed 6\u00a0\u00a0\u00a0\u00a0\u00a0Reference Tension 20 lb", "frame": "group", "anchor": "middle"},
    "resolve": {"axis": {"x": "independent", "y": "independent"}},
    "layer": [
      {"data": {"name": "d"},
       "mark": {"type": "line", "color": "black", "strokeWidth": 2.2},
       "encoding": {
         "x": {"field": "t", "type": "quantitative", "scale": {"domain": [0, 180], "nice": false, "zero": false}, "axis": {"values": [0,20,40,60,80,100,120,140,160,180], "title": null}},
         "y": {"field": "b", "type": "quantitative", "scale": {"domain": [3, 5], "nice": false, "zero": false}, "axis": {"values": [3,3.5,4,4.5,5], "format": "~g", "title": "Torque (V)", "titlePadding": 11, "labelPadding": 20}}
       }},
      {"data": {"values": [{"eq": "y = –0.0066x + 4.4951"}]},
       "mark": {"type": "text", "align": "left", "baseline": "middle", "font": "DejaVu Sans", "fontSize": 20, "color": "black"},
       "encoding": {
         "x": {"datum": 124.8, "type": "quantitative", "scale": {"domain": [0, 180], "nice": false, "zero": false}, "axis": {"orient": "top", "values": [20,40,60,80,100,120,140,160], "labels": false, "grid": false, "title": null, "domain": false}},
         "y": {"datum": 4.26, "type": "quantitative", "scale": {"domain": [3, 5], "nice": false, "zero": false}, "axis": {"orient": "right", "values": [3.5,4,4.5], "labels": false, "grid": false, "title": null, "domain": false}},
         "text": {"field": "eq"}
       }}
    ]
  },
  {
    "width": 1060, "height": 160,
    "title": {"text": "FIFE Controller (Clutch)", "frame": "group", "anchor": "middle"},
    "resolve": {"axis": {"x": "independent", "y": "independent"}},
    "layer": [
      {"data": {"name": "d"},
       "mark": {"type": "line", "color": "black", "strokeWidth": 2.2},
       "encoding": {
         "x": {"field": "t", "type": "quantitative", "scale": {"domain": [0, 180], "nice": false, "zero": false}, "axis": {"values": [0,20,40,60,80,100,120,140,160,180], "title": null}},
         "y": {"field": "c", "type": "quantitative", "scale": {"domain": [3, 5], "nice": false, "zero": false}, "axis": {"values": [3,3.5,4,4.5,5], "format": "~g", "title": "Torque (V)", "titlePadding": 11, "labelPadding": 20}}
       }},
      {"data": {"values": [{"eq": "y = 0.0063x + 3.714"}]},
       "mark": {"type": "text", "align": "left", "baseline": "middle", "font": "DejaVu Sans", "fontSize": 20, "color": "black"},
       "encoding": {
         "x": {"datum": 129.6, "type": "quantitative", "scale": {"domain": [0, 180], "nice": false, "zero": false}, "axis": {"orient": "top", "values": [20,40,60,80,100,120,140,160], "labels": false, "grid": false, "title": null, "domain": false}},
         "y": {"datum": 3.8, "type": "quantitative", "scale": {"domain": [3, 5], "nice": false, "zero": false}, "axis": {"orient": "right", "values": [3.5,4,4.5], "labels": false, "grid": false, "title": null, "domain": false}},
         "text": {"field": "eq"}
       }}
    ]
  },
  {
    "width": 1060, "height": 160,
    "title": {"text": "FIFE Controller (Load Cell)", "frame": "group", "anchor": "middle", "offset": -4},
    "resolve": {"axis": {"x": "independent", "y": "independent"}},
    "layer": [
      {"data": {"name": "d"},
       "mark": {"type": "line", "color": "black", "strokeWidth": 2.2},
       "encoding": {
         "x": {"field": "t", "type": "quantitative", "scale": {"domain": [0, 180], "nice": false, "zero": false}, "axis": {"values": [0,20,40,60,80,100,120,140,160,180], "title": "Time (s)", "titleFontSize": 20, "titlePadding": -3}},
         "y": {"field": "l", "type": "quantitative", "scale": {"domain": [0.5, 2], "nice": false, "zero": false}, "axis": {"values": [0.5,1,1.5,2], "format": "~g", "title": "Tension (V)", "titlePadding": 11, "labelPadding": 20}}
       }},
      {"data": {"values": [{"eq": "y = –0.00002x +1.2785"}]},
       "mark": {"type": "text", "align": "left", "baseline": "middle", "font": "DejaVu Sans", "fontSize": 20, "color": "black"},
       "encoding": {
         "x": {"datum": 116.5, "type": "quantitative", "scale": {"domain": [0, 180], "nice": false, "zero": false}, "axis": {"orient": "top", "values": [20,40,60,80,100,120,140,160], "labels": false, "grid": false, "title": null, "domain": false}},
         "y": {"datum": 1.755, "type": "quantitative", "scale": {"domain": [0.5, 2], "nice": false, "zero": false}, "axis": {"orient": "right", "values": [1,1.5], "labels": false, "grid": false, "title": null, "domain": false}},
         "text": {"field": "eq"}
       }}
    ]
  }
]
}
